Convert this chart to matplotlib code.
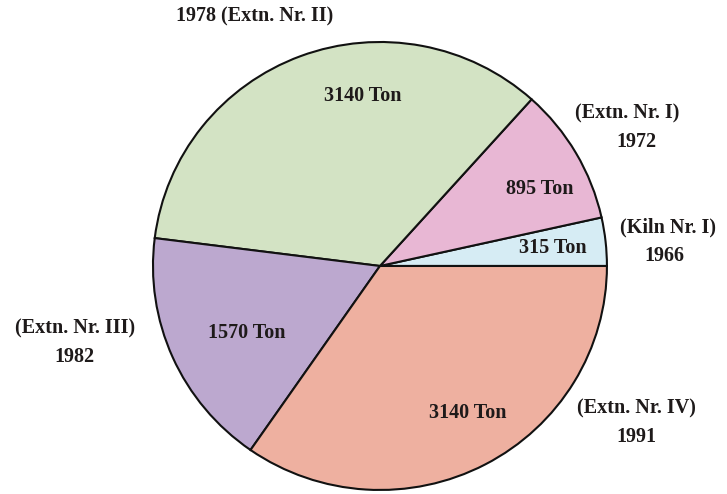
import matplotlib
matplotlib.use("Agg")
import matplotlib.pyplot as plt

# Data
names = ["(Kiln Nr. I)", "(Extn. Nr. I)", "(Extn. Nr. II)", "(Extn. Nr. III)", "(Extn. Nr. IV)"]
years = ["1966", "1972", "1978", "1982", "1991"]
capacity = [315, 895, 3140, 1570, 3140]
colors = ["#d6ecf4", "#e8b7d4", "#d3e3c4", "#bca8cf", "#eeb0a0"]

fig = plt.figure(figsize=(7.27, 4.94), dpi=100)
ax = fig.add_axes([0, 0, 1, 1])
ax.axis("off")

ax.pie(capacity, colors=colors, startangle=0, counterclock=True,
       radius=1.0, center=(0, 0),
       wedgeprops=dict(edgecolor="#111111", linewidth=1.5))
ax.set_xlim(-1.674, 1.529)
ax.set_ylim(-1.018, 1.1875)
ax.set_aspect("auto")

font = dict(family="Liberation Serif", fontweight="bold", fontsize=14.5, color="#1e1a1a",
            ha="center", va="center")

# value labels inside the slices
value_pos = [(0.762, 0.080), (0.705, 0.344), (-0.075, 0.759), (-0.586, -0.299), (0.388, -0.656)]
for v, (x, y) in zip(capacity, value_pos):
    ax.text(x, y, f"{v} Ton", **font)

# outside labels
ax.text(-0.551, 1.112, f"{years[2]} {names[2]}", **font)
ax.text(1.088, 0.679, names[1], **font)
ax.text(1.128, 0.554, years[1], **font)
ax.text(1.269, 0.170, names[0], **font)
ax.text(1.251, 0.045, years[0], **font)
ax.text(-1.344, -0.277, names[3], **font)
ax.text(-1.344, -0.406, years[3], **font)
ax.text(1.132, -0.638, names[4], **font)
ax.text(1.128, -0.763, years[4], **font)

fig.savefig("out.png", dpi=100, facecolor="white")
